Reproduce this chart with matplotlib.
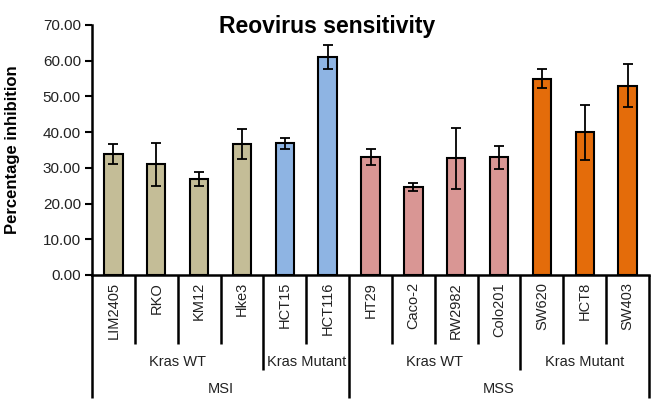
import matplotlib
matplotlib.use("Agg")
import matplotlib.pyplot as plt
import numpy as np

plt.rcParams["font.family"] = ["Liberation Sans", "DejaVu Sans"]

# Reovirus sensitivity per colorectal cell line
cell_lines = ["LIM2405", "RKO", "KM12", "Hke3", "HCT15", "HCT116",
              "HT29", "Caco-2", "RW2982", "Colo201", "SW620", "HCT8", "SW403"]
inhibition = [34.0, 31.0, 26.9, 36.7, 36.9, 61.0,
              33.0, 24.6, 32.7, 33.0, 55.0, 40.0, 53.0]
errors = [2.8, 6.0, 2.0, 4.2, 1.6, 3.3,
          2.3, 1.1, 8.5, 3.2, 2.6, 7.7, 6.0]
kras_status = ["Kras WT"] * 4 + ["Kras Mutant"] * 2 + ["Kras WT"] * 4 + ["Kras Mutant"] * 3
msi_status = ["MSI"] * 6 + ["MSS"] * 7

palette = {
    ("MSI", "Kras WT"): "#C4BD97",
    ("MSI", "Kras Mutant"): "#8EB4E3",
    ("MSS", "Kras WT"): "#D99694",
    ("MSS", "Kras Mutant"): "#E46C0A",
}
colors = [palette[(m, k)] for m, k in zip(msi_status, kras_status)]

fig = plt.figure(figsize=(6.54, 4.05), dpi=100)
ax = fig.add_axes([92 / 654, 1 - 275 / 405, (649 - 92) / 654, 250 / 405])

x = np.arange(len(cell_lines))
ax.bar(x, inhibition, width=0.43, color=colors, edgecolor="black", linewidth=1.5, zorder=2)
ax.errorbar(x, inhibition, yerr=errors, fmt="none", ecolor="black",
            elinewidth=1.3, capsize=3.5, capthick=1.3, zorder=3)

ax.set_xlim(-0.5, len(cell_lines) - 0.5)
ax.set_ylim(0, 70)
ax.set_yticks(np.arange(0, 71, 10))
ax.set_yticklabels([f"{v:.2f}" for v in np.arange(0, 71, 10)], fontsize=11, color="#222222")
ax.tick_params(axis="y", direction="out", length=5, width=1.5, pad=3)
ax.set_xticks([])
for side in ("top", "right"):
    ax.spines[side].set_visible(False)
ax.spines["left"].set_linewidth(1.8)
ax.spines["bottom"].set_linewidth(1.8)

ax.set_ylabel("Percentage inhibition", fontsize=12, fontweight="bold")
ax.yaxis.set_label_coords((20 - 92) / 557, 0.5)
fig.text(327 / 654, 1 - 33 / 405, "Reovirus sensitivity", ha="center", va="baseline",
         fontsize=16.5, fontweight="bold")

# Multi-level category axis
trans = ax.get_xaxis_transform()
ax_h = 250.0
y_lvl1 = -(344 - 275) / ax_h
y_lvl2 = -(370 - 275) / ax_h
y_lvl3 = -(398 - 275) / ax_h

n = len(cell_lines)
for i, name in enumerate(cell_lines):
    ax.text(i, -(282 - 275) / ax_h, name, transform=trans, rotation=90,
            ha="center", va="top", fontsize=10.5, color="#222222")

# boundaries between categories
for b in range(n + 1):
    pos = b - 0.5
    if b == 0 or b == n or msi_status[b - 1] != msi_status[b]:
        y_end = y_lvl3
    elif kras_status[b - 1] != kras_status[b]:
        y_end = y_lvl2
    else:
        y_end = y_lvl1
    ax.plot([pos, pos], [0, y_end], transform=trans, color="black",
            linewidth=1.8, clip_on=False, solid_capstyle="butt")

def spans(labels):
    out = []
    start = 0
    for i in range(1, len(labels) + 1):
        if i == len(labels) or labels[i] != labels[start]:
            out.append((labels[start], start, i - 1))
            start = i
    return out

kras_keys = [f"{m}|{k}" for m, k in zip(msi_status, kras_status)]
for key, s, e in spans(kras_keys):
    ax.text((s + e) / 2, -(362 - 275) / ax_h, key.split("|")[1], transform=trans,
            ha="center", va="center", fontsize=10.5, color="#222222")
for label, s, e in spans(msi_status):
    ax.text((s + e) / 2, -(389 - 275) / ax_h, label, transform=trans,
            ha="center", va="center", fontsize=10.5, color="#222222")

fig.savefig("out.png", dpi=100)
